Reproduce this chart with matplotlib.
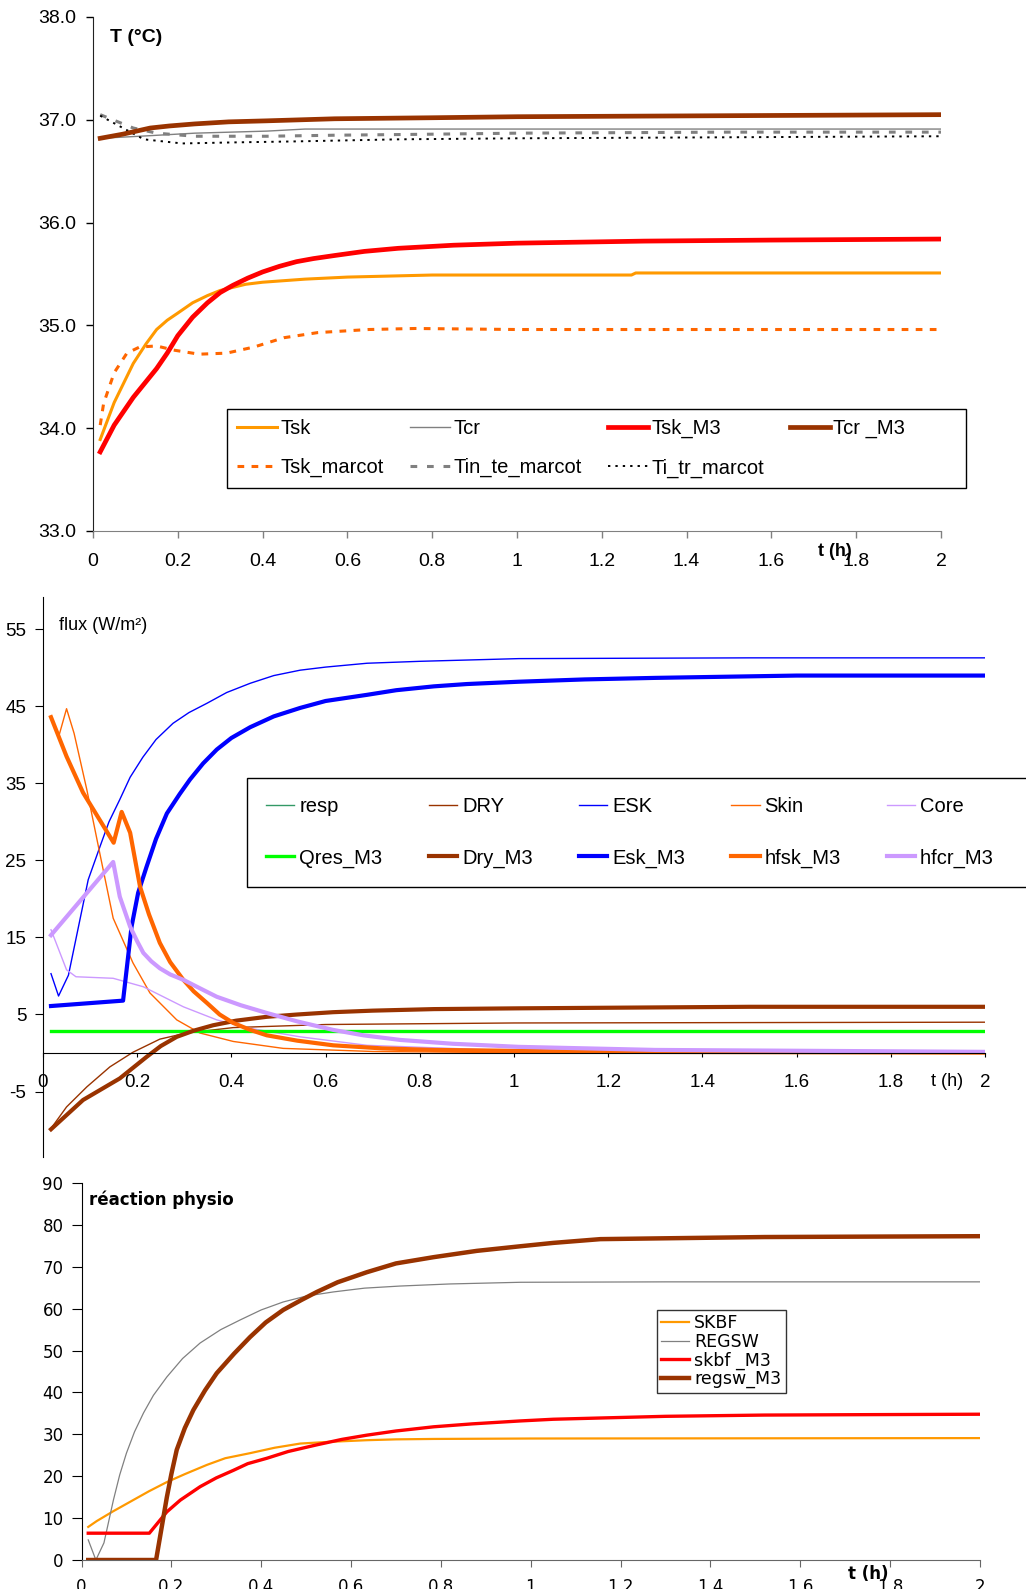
import matplotlib
matplotlib.use("Agg")
import matplotlib.pyplot as plt

plt.rcParams["axes.unicode_minus"] = False

# ---------------- Panel 1 data : temperatures ----------------
t_tsk = [0.017, 0.05, 0.095, 0.125, 0.15, 0.175, 0.2, 0.235, 0.27, 0.3, 0.33, 0.36, 0.4, 0.5, 0.6, 0.8, 1.0, 1.27, 1.28, 2.0]
Tsk = [33.89, 34.25, 34.63, 34.82, 34.96, 35.05, 35.12, 35.22, 35.29, 35.34, 35.37, 35.40, 35.42, 35.45, 35.47, 35.49, 35.49, 35.49, 35.51, 35.51]
t_tcr = [0.017, 0.11, 0.24, 0.41, 0.5, 1.0, 2.0]
Tcr = [36.82, 36.84, 36.87, 36.89, 36.91, 36.91, 36.91]
t_tskm3 = [0.017, 0.05, 0.095, 0.15, 0.175, 0.2, 0.235, 0.27, 0.3, 0.33, 0.365, 0.4, 0.44, 0.48, 0.52, 0.57, 0.64, 0.72, 0.85, 1.0, 1.3, 1.6, 2.0]
Tsk_M3 = [33.77, 34.03, 34.30, 34.58, 34.73, 34.90, 35.08, 35.22, 35.32, 35.39, 35.46, 35.52, 35.575, 35.62, 35.65, 35.68, 35.72, 35.75, 35.78, 35.80, 35.82, 35.83, 35.84]
t_tcrm3 = [0.017, 0.07, 0.135, 0.18, 0.24, 0.32, 0.41, 0.57, 0.8, 1.0, 1.5, 2.0]
Tcr_M3 = [36.82, 36.86, 36.92, 36.94, 36.96, 36.98, 36.99, 37.01, 37.02, 37.03, 37.04, 37.05]
t_marc = [0.017, 0.025, 0.05, 0.08, 0.11, 0.15, 0.19, 0.25, 0.315, 0.38, 0.45, 0.53, 0.65, 0.76, 1.0, 1.5, 2.0]
Tsk_marcot = [34.03, 34.24, 34.54, 34.73, 34.79, 34.80, 34.76, 34.72, 34.73, 34.79, 34.88, 34.93, 34.96, 34.97, 34.96, 34.96, 34.96]
t_tinte = [0.017, 0.095, 0.15, 0.24, 0.41, 0.57, 0.8, 1.0, 1.5, 2.0]
Tin_te_marcot = [37.05, 36.92, 36.87, 36.84, 36.84, 36.85, 36.86, 36.87, 36.88, 36.88]
t_titr = [0.017, 0.12, 0.21, 0.33, 0.48, 0.72, 1.0, 1.5, 2.0]
Ti_tr_marcot = [37.04, 36.81, 36.77, 36.78, 36.79, 36.81, 36.82, 36.83, 36.84]

# ---------------- Panel 2 data : fluxes ----------------
t_resp = [0.017, 2.0]
resp = [2.9, 2.9]
Qres_M3 = [2.9, 2.9]
t_dry = [0.017, 0.05, 0.093, 0.142, 0.191, 0.248, 0.305, 0.404, 0.6, 1.0, 2.0]
DRY = [-9.8, -7.0, -4.4, -1.8, 0.1, 1.8, 2.6, 3.3, 3.7, 3.9, 4.0]
t_drym3 = [0.017, 0.085, 0.163, 0.22, 0.25, 0.284, 0.32, 0.361, 0.41, 0.475, 0.54, 0.616, 0.7, 0.83, 1.01, 1.5, 2.0]
Dry_M3 = [-9.9, -6.1, -3.3, -0.5, 0.9, 2.1, 2.9, 3.6, 4.2, 4.7, 5.0, 5.3, 5.5, 5.7, 5.8, 6.0, 6.0]
t_esk = [0.017, 0.033, 0.054, 0.096, 0.121, 0.14, 0.163, 0.185, 0.212, 0.24, 0.276, 0.31, 0.348, 0.39, 0.44, 0.49, 0.546, 0.6, 0.688, 0.8, 1.01, 1.5, 2.0]
ESK = [10.3, 7.4, 10.1, 22.5, 26.8, 30.0, 32.9, 35.8, 38.4, 40.7, 42.8, 44.2, 45.4, 46.8, 48.0, 49.0, 49.7, 50.1, 50.6, 50.85, 51.2, 51.3, 51.3]
t_eskm3 = [0.017, 0.17, 0.188, 0.202, 0.22, 0.24, 0.263, 0.29, 0.312, 0.34, 0.369, 0.4, 0.44, 0.49, 0.546, 0.6, 0.688, 0.75, 0.83, 0.9, 1.01, 1.15, 1.3, 1.6, 2.0]
Esk_M3 = [6.1, 6.8, 16.4, 20.8, 24.2, 27.8, 31.1, 33.6, 35.5, 37.6, 39.4, 40.9, 42.3, 43.7, 44.8, 45.7, 46.5, 47.1, 47.6, 47.9, 48.2, 48.5, 48.7, 49.0, 49.0]
t_skin = [0.017, 0.033, 0.05, 0.066, 0.093, 0.121, 0.149, 0.191, 0.227, 0.284, 0.333, 0.404, 0.51, 0.7, 1.0, 2.0]
Skin = [43.6, 41.0, 44.7, 41.5, 34.2, 25.8, 17.5, 11.7, 7.8, 4.3, 2.6, 1.5, 0.6, 0.2, 0.05, 0.0]
t_hfsk = [0.017, 0.05, 0.085, 0.15, 0.167, 0.185, 0.206, 0.225, 0.248, 0.27, 0.298, 0.32, 0.348, 0.375, 0.404, 0.44, 0.475, 0.54, 0.616, 0.72, 0.83, 1.2, 2.0]
hfsk_M3 = [43.6, 38.5, 33.8, 27.3, 31.3, 28.6, 21.6, 18.0, 14.3, 11.8, 9.5, 8.0, 6.5, 5.0, 3.9, 3.0, 2.3, 1.6, 1.0, 0.6, 0.4, 0.15, 0.05]
t_core = [0.017, 0.05, 0.07, 0.149, 0.213, 0.298, 0.369, 0.44, 0.546, 0.688, 1.0, 2.0]
Core = [16.0, 10.8, 9.9, 9.7, 8.6, 6.0, 4.3, 3.2, 2.1, 1.0, 0.3, 0.1]
t_hfcr = [0.017, 0.149, 0.163, 0.185, 0.2, 0.213, 0.23, 0.248, 0.27, 0.298, 0.33, 0.369, 0.42, 0.475, 0.54, 0.616, 0.68, 0.758, 0.87, 1.01, 1.3, 2.0]
hfcr_M3 = [15.3, 24.8, 20.3, 16.4, 14.5, 13.0, 11.9, 11.0, 10.2, 9.5, 8.5, 7.3, 6.2, 5.2, 4.1, 3.0, 2.3, 1.7, 1.2, 0.8, 0.4, 0.15]

# ---------------- Panel 3 data : physiological reaction ----------------
t_skbf = [0.015, 0.034, 0.07, 0.115, 0.15, 0.19, 0.23, 0.279, 0.32, 0.375, 0.43, 0.487, 0.55, 0.635, 0.7, 0.784, 1.0, 2.0]
SKBF = [7.9, 9.3, 11.6, 14.3, 16.4, 18.6, 20.5, 22.7, 24.3, 25.5, 26.8, 27.8, 28.2, 28.6, 28.8, 28.9, 29.0, 29.1]
t_regsw = [0.015, 0.032, 0.05, 0.071, 0.085, 0.1, 0.118, 0.138, 0.16, 0.19, 0.225, 0.264, 0.31, 0.353, 0.4, 0.449, 0.5, 0.561, 0.63, 0.709, 0.82, 0.977, 1.3, 2.0]
REGSW = [4.8, 0.0, 4.1, 14.3, 20.3, 25.5, 30.6, 35.1, 39.3, 43.7, 48.1, 51.8, 55.0, 57.3, 59.7, 61.6, 63.0, 64.0, 64.9, 65.4, 65.9, 66.3, 66.4, 66.4]
t_skbfm3 = [0.015, 0.151, 0.19, 0.22, 0.264, 0.3, 0.338, 0.37, 0.413, 0.46, 0.524, 0.58, 0.635, 0.7, 0.784, 0.87, 0.977, 1.05, 1.155, 1.3, 1.52, 1.75, 2.0]
skbf_M3 = [6.4, 6.4, 11.5, 14.3, 17.5, 19.6, 21.4, 23.0, 24.3, 25.9, 27.5, 28.8, 29.8, 30.8, 31.8, 32.5, 33.2, 33.6, 33.9, 34.3, 34.6, 34.7, 34.8]
t_regswm3 = [0.015, 0.166, 0.19, 0.2, 0.212, 0.23, 0.249, 0.275, 0.301, 0.34, 0.375, 0.41, 0.449, 0.49, 0.524, 0.57, 0.635, 0.7, 0.784, 0.88, 0.977, 1.05, 1.155, 1.3, 1.52, 1.75, 2.0]
regsw_M3 = [0, 0, 15.0, 20.5, 26.3, 31.5, 35.8, 40.5, 44.6, 49.3, 53.2, 56.7, 59.7, 62.1, 64.0, 66.3, 68.7, 70.8, 72.3, 73.8, 74.9, 75.7, 76.6, 76.8, 77.1, 77.2, 77.3]

x_ticks = [0, 0.2, 0.4, 0.6, 0.8, 1, 1.2, 1.4, 1.6, 1.8, 2]
x_ticklabels = ["0", "0.2", "0.4", "0.6", "0.8", "1", "1.2", "1.4", "1.6", "1.8", "2"]
y1_ticks = [33, 34, 35, 36, 37, 38]
y2_ticks = [-5, 5, 15, 25, 35, 45, 55]
y3_ticks = [0, 10, 20, 30, 40, 50, 60, 70, 80, 90]

# ---------------- figure ----------------
W, H = 1026, 1589
fig = plt.figure(figsize=(W / 100, H / 100), dpi=100)
ARIAL = ["Liberation Sans", "DejaVu Sans"]
WIDE = ["DejaVu Sans"]


def rect(l, t, r, b):
    return [l / W, 1 - b / H, (r - l) / W, (b - t) / H]


def fx(x):
    return x / W


def fy(y):
    return 1 - y / H


# ======== Panel 1 ========
ax1 = fig.add_axes(rect(93, 17, 941, 531))
ax1.plot(t_tsk, Tsk, color="#FF9900", lw=2.2, label="Tsk")
ax1.plot(t_tcr, Tcr, color="#808080", lw=1.0, label="Tcr")
ax1.plot(t_marc, Tsk_marcot, color="#FF6600", lw=2.2, ls=(0, (2.2, 2.4)), label="Tsk_marcot")
ax1.plot(t_tinte, Tin_te_marcot, color="#808080", lw=2.2, ls=(0, (2.2, 3.2)), label="Tin_te_marcot")
ax1.plot(t_titr, Ti_tr_marcot, color="#000000", lw=1.4, ls=(0, (1.2, 2.6)), label="Ti_tr_marcot")
ax1.plot(t_tskm3, Tsk_M3, color="#FF0000", lw=3.4, label="Tsk_M3")
ax1.plot(t_tcrm3, Tcr_M3, color="#993300", lw=3.4, label="Tcr _M3")
ax1.set_xlim(0, 2)
ax1.set_ylim(33, 38)
ax1.set_xticks(x_ticks)
ax1.set_xticklabels(x_ticklabels)
ax1.set_yticks(y1_ticks)
ax1.set_yticklabels([f"{v:.1f}" for v in y1_ticks])
for s in ("top", "right"):
    ax1.spines[s].set_visible(False)
ax1.spines["left"].set_color("#222222")
ax1.spines["bottom"].set_color("#808080")
ax1.tick_params(axis="both", direction="out", length=5, width=1, labelsize=14)
ax1.tick_params(axis="x", pad=11, colors="#808080", labelcolor="black")
ax1.tick_params(axis="y", pad=7)
for lab in ax1.get_xticklabels() + ax1.get_yticklabels():
    lab.set_family(ARIAL)
h, l = ax1.get_legend_handles_labels()
hd = dict(zip(l, h))
order1 = ["Tsk", "Tsk_marcot", "Tcr", "Tin_te_marcot", "Tsk_M3", "Ti_tr_marcot", "Tcr _M3"]
shown1 = [k if k != "Tcr _M3" else k + " " * 9 for k in order1]
leg1 = ax1.legend([hd[k] for k in order1], shown1, ncol=4, loc="upper left",
                  bbox_to_anchor=(fx(227), fy(409)), bbox_transform=fig.transFigure,
                  borderaxespad=0, frameon=True, fancybox=False, framealpha=1,
                  edgecolor="black", prop={"family": ARIAL, "size": 14.5},
                  handlelength=2.0, handletextpad=0.15, columnspacing=1.3,
                  labelspacing=1.0, borderpad=0.5)
leg1.get_frame().set_linewidth(1.0)
fig.text(fx(110), fy(37), "T (°C)", family=ARIAL, fontsize=14, fontweight="bold", ha="left", va="center")
fig.text(fx(835), fy(552), "t (h)", family=ARIAL, fontsize=13, fontweight="bold", ha="center", va="center")

# ======== Panel 2 ========
ax2 = fig.add_axes(rect(43, 597, 985, 1157))
ax2.plot(t_resp, resp, color="#339966", lw=1.0, label="resp")
ax2.plot(t_dry, DRY, color="#993300", lw=1.0, label="DRY")
ax2.plot(t_esk, ESK, color="#0000FF", lw=1.0, label="ESK")
ax2.plot(t_skin, Skin, color="#FF6600", lw=1.0, label="Skin")
ax2.plot(t_core, Core, color="#CC99FF", lw=1.0, label="Core")
ax2.plot(t_resp, Qres_M3, color="#00FF00", lw=2.4, label="Qres_M3")
ax2.plot(t_drym3, Dry_M3, color="#993300", lw=3.0, label="Dry_M3")
ax2.plot(t_eskm3, Esk_M3, color="#0000FF", lw=3.0, label="Esk_M3")
ax2.plot(t_hfsk, hfsk_M3, color="#FF6600", lw=3.0, label="hfsk_M3")
ax2.plot(t_hfcr, hfcr_M3, color="#CC99FF", lw=3.0, label="hfcr_M3")
ax2.set_xlim(0, 2)
ax2.set_ylim(-13.5, 59.2)
ax2.set_xticks(x_ticks)
ax2.set_xticklabels(x_ticklabels)
ax2.set_yticks(y2_ticks)
for s in ("top", "right"):
    ax2.spines[s].set_visible(False)
ax2.spines["bottom"].set_position(("data", 0))
ax2.tick_params(axis="both", direction="out", labelsize=13.5)
ax2.tick_params(axis="x", length=3, pad=12)
ax2.tick_params(axis="y", length=6, pad=6)
for lab in ax2.get_xticklabels() + ax2.get_yticklabels():
    lab.set_family(ARIAL)
h2, l2 = ax2.get_legend_handles_labels()
hd2 = dict(zip(l2, h2))
order2 = ["resp", "Qres_M3", "DRY", "Dry_M3", "ESK", "Esk_M3", "Skin", "hfsk_M3", "Core", "hfcr_M3"]
shown2 = [k if k != "hfcr_M3" else k + "    " for k in order2]
leg2 = ax2.legend([hd2[k] for k in order2], shown2, ncol=5, loc="upper left",
                  bbox_to_anchor=(fx(247), fy(778)), bbox_transform=fig.transFigure,
                  borderaxespad=0, frameon=True, fancybox=False, framealpha=1,
                  edgecolor="black", prop={"family": ARIAL, "size": 14.5},
                  handlelength=1.4, handletextpad=0.25, columnspacing=2.3,
                  labelspacing=1.6, borderpad=0.95)
leg2.get_frame().set_linewidth(1.0)
fig.text(fx(59), fy(626), "flux (W/m²)", family=ARIAL, fontsize=13, ha="left", va="center")
fig.text(fx(947), fy(1081), "t (h)", family=ARIAL, fontsize=13, ha="center", va="center")

# ======== Panel 3 ========
ax3 = fig.add_axes(rect(81.5, 1183, 980, 1560))
ax3.plot(t_skbf, SKBF, color="#FF9900", lw=1.6, label="SKBF")
ax3.plot(t_regsw, REGSW, color="#808080", lw=0.9, label="REGSW")
ax3.plot(t_skbfm3, skbf_M3, color="#FF0000", lw=2.4, label="skbf _M3")
ax3.plot(t_regswm3, regsw_M3, color="#993300", lw=3.2, label="regsw_M3")
ax3.set_xlim(0, 2)
ax3.set_ylim(0, 90)
ax3.set_xticks(x_ticks)
ax3.set_xticklabels(x_ticklabels)
ax3.set_yticks(y3_ticks)
for s in ("top", "right"):
    ax3.spines[s].set_visible(False)
ax3.spines["bottom"].set_color("#666666")
ax3.tick_params(axis="both", direction="out", labelsize=12)
ax3.tick_params(axis="x", length=5, pad=8, colors="#666666", labelcolor="black")
ax3.tick_params(axis="y", length=7, pad=6)
for lab in ax3.get_xticklabels() + ax3.get_yticklabels():
    lab.set_family(WIDE)
leg3 = ax3.legend(loc="upper left",
                  bbox_to_anchor=(fx(657), fy(1310)), bbox_transform=fig.transFigure,
                  borderaxespad=0, frameon=True, fancybox=False, framealpha=1,
                  edgecolor="#333333", prop={"family": WIDE, "size": 12.5},
                  handlelength=1.6, handletextpad=0.3, labelspacing=0.03, borderpad=0.25)
leg3.get_frame().set_linewidth(1.0)
fig.text(fx(89), fy(1200), "réaction physio", family=WIDE, fontsize=12, fontweight="bold", ha="left", va="center")
fig.text(fx(868), fy(1574), "t (h)", family=WIDE, fontsize=12, fontweight="bold", ha="center", va="center")

fig.savefig("out.png", dpi=100)
